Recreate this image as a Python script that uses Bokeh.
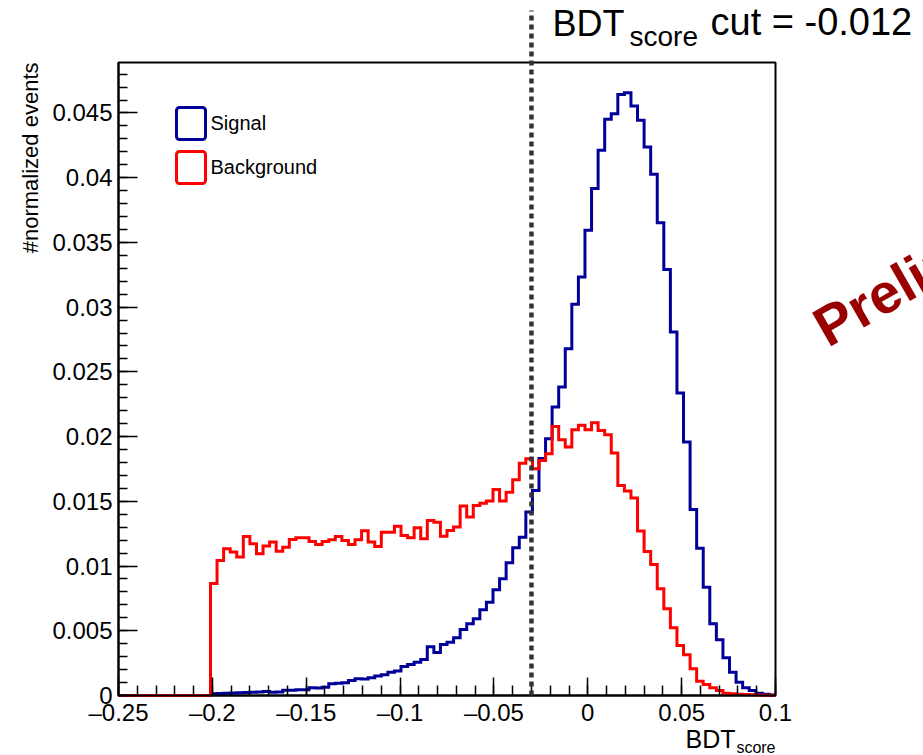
import numpy as np
from bokeh.plotting import figure
from bokeh.models import FixedTicker, Label, Arrow, BoxAnnotation, Range1d, LinearAxis
from bokeh.embed import file_html
from bokeh.resources import INLINE

# ---------------- data ----------------
x_min, x_max = -0.25, 0.1
n_bins = 100
y_max = 0.0489

signal = [
    0, 0, 0, 0, 0, 0, 0, 0, 0, 0,
    0, 0, 0, 0, 0.00013, 0.00016, 0.00018, 0.0002, 0.00022, 0.00023,
    0.00026, 0.00028, 0.00031, 0.00026, 0.00027, 0.00041, 0.00041, 0.00044, 0.00045, 0.0006,
    0.00057, 0.00064, 0.0009, 0.00095, 0.00098, 0.00116, 0.00129, 0.00128, 0.00137, 0.0015,
    0.0016, 0.0018, 0.0019, 0.00224, 0.0024, 0.00257, 0.00278, 0.00376, 0.00332, 0.00394,
    0.00412, 0.00446, 0.0051, 0.00554, 0.00592, 0.00662, 0.00721, 0.00817, 0.00902, 0.01025,
    0.01141, 0.01223, 0.01417, 0.01584, 0.0183, 0.01984, 0.02228, 0.02383, 0.02679, 0.03022,
    0.03233, 0.03594, 0.03916, 0.04212, 0.04451, 0.04495, 0.04642, 0.04657, 0.04554, 0.04444,
    0.04237, 0.04026, 0.03653, 0.0329, 0.02808, 0.02336, 0.01958, 0.01437, 0.01138, 0.00837,
    0.00554, 0.0043, 0.00291, 0.0018, 0.00103, 0.0006, 0.00039, 0.00018, 0.0001, 0.00003,
]

background = [
    0, 0, 0, 0, 0, 0, 0, 0, 0, 0,
    0, 0, 0, 0, 0.00866, 0.01043, 0.01133, 0.01108, 0.01069, 0.01229,
    0.01172, 0.01095, 0.01154, 0.01185, 0.01115, 0.01146, 0.01206, 0.01218, 0.01218, 0.0119,
    0.01167, 0.0119, 0.01203, 0.01229, 0.01198, 0.01167, 0.01203, 0.01272, 0.01185, 0.01151,
    0.01262, 0.01262, 0.01308, 0.01236, 0.01218, 0.01296, 0.01211, 0.01352, 0.01339, 0.01231,
    0.01275, 0.01301, 0.01463, 0.01378, 0.01468, 0.01486, 0.01502, 0.01592, 0.01502, 0.01571,
    0.01667, 0.01795, 0.01829, 0.01752, 0.01816, 0.01868, 0.02079, 0.01976, 0.01919, 0.02053,
    0.02087, 0.02053, 0.02107, 0.02048, 0.02015, 0.01873, 0.01623, 0.01579, 0.01525, 0.0127,
    0.01113, 0.01012, 0.00824, 0.0067, 0.00523, 0.00386, 0.00314, 0.00206, 0.00111, 0.00085,
    0.0006, 0.00039, 0.00018, 0.00013, 0.0001, 0.00007, 0.00005, 0.00003, 0.00002, 0.00001,
]

cut_x = -0.03
series_names = ["Signal", "Background"]
x_tick_values = [-0.25, -0.2, -0.15, -0.1, -0.05, 0.0, 0.05, 0.1]
x_tick_labels = ["\u20130.25", "\u20130.2", "\u20130.15", "\u20130.1", "\u20130.05", "0", "0.05", "0.1"]
y_tick_values = [0.0, 0.005, 0.01, 0.015, 0.02, 0.025, 0.03, 0.035, 0.04, 0.045]
y_tick_labels = ["0", "0.005", "0.01", "0.015", "0.02", "0.025", "0.03", "0.035", "0.04", "0.045"]

# ---------------- styling / geometry ----------------
BLUE = "#000099"
RED = "#ff0000"
FONT = "Liberation Sans"
W, H = 923, 755
FL, FR, FT, FB = 118, 775, 62, 695   # histogram box edges in canvas pixels

# the Bokeh frame spans the whole canvas; ranges are widened so that the
# histogram box [x_min, x_max] x [0, y_max] lands at the pixel box above
kx = (FR - FL) / (x_max - x_min)
ky = (FB - FT) / y_max
x_range = Range1d(x_min - FL / kx, x_max + (W - FR) / kx)
y_range = Range1d(-(H - FB) / ky, y_max + FT / ky)

p = figure(width=W, height=H, output_backend="svg", toolbar_location=None,
           x_range=x_range, y_range=y_range, x_axis_type=None, y_axis_type=None,
           min_border=0, min_border_left=0, min_border_right=0,
           min_border_top=0, min_border_bottom=0)
p.xgrid.visible = False
p.ygrid.visible = False
p.outline_line_color = None
p.background_fill_color = "white"
p.border_fill_color = "white"

p.step(x=np.linspace(x_min, x_max, n_bins + 1), y=list(signal) + [signal[-1]], mode="after",
       line_color=BLUE, line_width=3, line_join="miter")
p.step(x=np.linspace(x_min, x_max, n_bins + 1), y=list(background) + [background[-1]], mode="after",
       line_color=RED, line_width=3, line_join="miter")

# frame box
p.add_layout(BoxAnnotation(left=x_min, right=x_max, bottom=0, top=y_max,
                           fill_alpha=0, line_color="black", line_width=2, line_alpha=1,
                           level="underlay"))

# axes drawn at fixed data locations
minor_x = [round(v, 4) for v in np.arange(x_min, x_max + 1e-9, 0.01)]
minor_y = [round(v, 4) for v in np.arange(0, y_max, 0.001)]
xaxis = LinearAxis(fixed_location=0, bounds=(x_min, x_max),
                   ticker=FixedTicker(ticks=x_tick_values, minor_ticks=minor_x),
                   major_label_overrides=dict(zip(x_tick_values, x_tick_labels)))
yaxis = LinearAxis(fixed_location=x_min, bounds=(0, y_max),
                   ticker=FixedTicker(ticks=y_tick_values, minor_ticks=minor_y),
                   major_label_overrides=dict(zip(y_tick_values, y_tick_labels)))
for ax, maj, mnr in ((xaxis, 18, 10), (yaxis, 19, 9)):
    ax.major_tick_in = maj
    ax.major_tick_out = 0
    ax.minor_tick_in = mnr
    ax.minor_tick_out = 0
    ax.axis_line_width = 2
    ax.axis_line_color = "black"
    ax.major_tick_line_color = "black"
    ax.minor_tick_line_color = "black"
    ax.major_tick_line_width = 1.5
    ax.minor_tick_line_width = 1.5
    ax.major_label_text_font = FONT
    ax.major_label_text_font_size = "24px"
    ax.major_label_text_color = "black"
xaxis.major_label_standoff = 3
yaxis.major_label_standoff = 6
p.add_layout(xaxis, "below")
p.add_layout(yaxis, "left")

BASELINE_SHIFT = 0.4  # observed offset (in em) of Bokeh's alphabetic baseline


def lab(text, px, py, size, align="left", angle=0.0, color="black", style="normal"):
    """(px, py): wanted baseline anchor in canvas pixels (y downwards)."""
    d = BASELINE_SHIFT * size
    ax_ = px - d * np.sin(angle)
    ay_ = py - d * np.cos(angle)
    p.add_layout(Label(x=ax_, y=H - ay_, x_units="screen", y_units="screen",
                       text=text, text_font=FONT, text_font_size=f"{size}px",
                       text_align=align, text_baseline="alphabetic", angle=angle,
                       text_color=color, text_font_style=style))


# axis titles
lab("#normalized events", 39, FT, 22, align="right", angle=np.pi / 2)
lab("BDT", 735, 748, 25, align="right")
lab("score", 775, 753, 16, align="right")

# cut line (extends above the histogram box)
y_line_top = y_max * (FB - 10) / (FB - FT)
p.add_layout(Arrow(end=None, x_start=cut_x, y_start=0, x_end=cut_x, y_end=y_line_top,
                   line_color="#333333", line_width=4.5, line_dash="5 4"))

# cut title
lab("BDT", 552, 37, 36)
lab("score", 629, 47, 28)
lab("cut = -0.012", 710, 37, 38)

# legend boxes
for name, col, top, bot in ((series_names[0], BLUE, 107, 139), (series_names[1], RED, 151, 183)):
    p.add_layout(BoxAnnotation(left=176, right=205, top=H - top, bottom=H - bot,
                               left_units="screen", right_units="screen",
                               top_units="screen", bottom_units="screen",
                               fill_alpha=0, line_color=col, line_width=3, line_alpha=1,
                               border_radius=3))
    lab(name, 210, (top + bot) / 2 + 7, 20)

# watermark (runs off the right edge, as in the original)
lab("Preliminary", 829, 350, 56, angle=0.52, color="#990000", style="bold")

open("out.html", "w").write(file_html(p, INLINE))
